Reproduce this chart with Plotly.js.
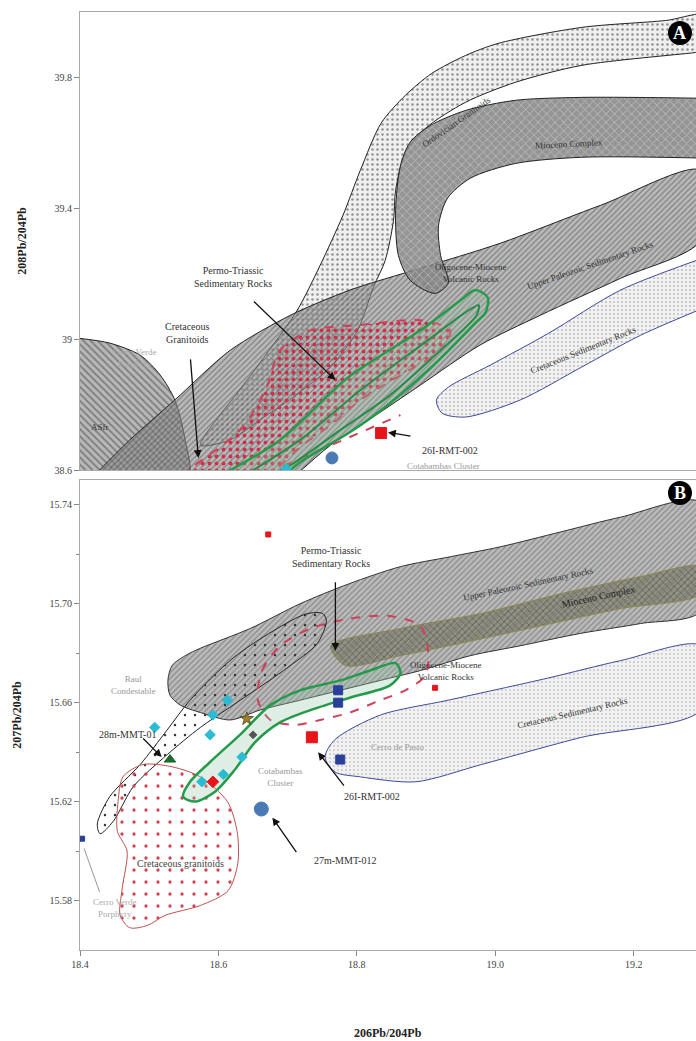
<!DOCTYPE html>
<html><head><meta charset="utf-8">
<script src="https://cdn.plot.ly/plotly-3.0.1.min.js"></script>
<style>html,body{margin:0;padding:0;background:#fff}#chart{width:696px;height:1041px}</style>
</head><body><div id="chart"></div>
<script>
// ---------- Panel A (208Pb/204Pb vs 206Pb/204Pb) field outlines ----------
const asfrA_x = [18.397,18.443,18.487,18.516,18.537,18.552,18.556,18.397];
const asfrA_y = [39.003,38.988,38.951,38.890,38.814,38.692,38.569,38.569];
const upPalA_x = [18.414,18.472,18.537,18.617,18.704,18.790,18.892,19.007,19.152,19.297,19.297,19.181,19.065,18.978,18.892,18.834,18.762,18.704];
const upPalA_y = [38.569,38.692,38.814,38.966,39.073,39.150,39.217,39.293,39.409,39.516,39.302,39.186,39.073,38.982,38.860,38.777,38.676,38.569];
const ordA_x = [18.574,18.602,18.627,18.670,18.714,18.747,18.780,18.805,18.835,18.870,18.908,18.957,19.004,19.125,19.246,19.311,19.311,19.289,19.125,19.029,18.957,18.899,18.870,18.856,18.853,18.841,18.824,18.801,18.762,18.708,18.660,18.617,18.574];
const ordA_y = [38.676,38.768,38.835,38.957,39.089,39.226,39.379,39.516,39.660,39.745,39.812,39.867,39.904,39.953,39.974,39.992,39.882,39.876,39.837,39.785,39.724,39.644,39.568,39.455,39.363,39.241,39.159,39.027,38.915,38.823,38.753,38.692,38.676];
const miocA_x = [19.311,19.125,19.029,18.957,18.906,18.877,18.863,18.856,18.860,18.877,18.913,18.932,18.921,18.918,18.931,18.964,19.029,19.125,19.311];
const miocA_y = [39.736,39.739,39.730,39.699,39.653,39.602,39.531,39.394,39.256,39.180,39.140,39.171,39.256,39.348,39.431,39.492,39.537,39.556,39.553];
const creSedA_x = [19.311,19.181,19.077,18.993,18.932,18.915,18.923,18.957,19.036,19.125,19.210,19.311];
const creSedA_y = [39.256,39.150,39.018,38.921,38.853,38.814,38.774,38.762,38.814,38.915,39.012,39.104];
const redA_x = [18.545,18.631,18.668,18.689,18.733,18.805,18.892,18.935,18.921,18.863,18.805,18.762,18.718,18.675];
const redA_y = [38.585,38.722,38.844,38.966,39.027,39.043,39.058,39.027,38.966,38.890,38.814,38.737,38.670,38.585];
const redLineA_x = [18.646,18.762,18.863];
const redLineA_y = [38.569,38.676,38.768];
const greenA_x = [18.605,18.689,18.788,18.892,18.950,18.971,18.989,18.986,18.971,18.908,18.835,18.788,18.718,18.696];
const greenA_y = [38.585,38.692,38.884,39.027,39.119,39.150,39.128,39.082,39.049,38.915,38.783,38.713,38.624,38.585];
const greenA2_x = [18.639,18.718,18.805,18.899,18.957,18.976,18.973,18.921,18.848,18.776,18.704,18.675];
const greenA2_y = [38.585,38.692,38.844,38.991,39.082,39.104,39.073,38.966,38.829,38.722,38.615,38.585];
// Panel A samples
const redSqA_x = [18.835], redSqA_y = [38.713];
const blueCircA_x = [18.764], blueCircA_y = [38.637];
const cyanA_x = [18.698], cyanA_y = [38.604];

// ---------- Panel B (207Pb/204Pb vs 206Pb/204Pb) field outlines ----------
const upPalB_x = [18.527,18.533,18.552,18.574,18.646,18.718,18.788,18.863,18.935,19.007,19.094,19.181,19.297,19.297,19.210,19.123,19.036,18.964,18.892,18.834,18.776,18.718,18.660,18.617,18.574,18.545,18.530,18.527];
const upPalB_y = [15.669,15.675,15.679,15.682,15.690,15.700,15.708,15.715,15.719,15.723,15.729,15.735,15.741,15.697,15.692,15.688,15.683,15.679,15.673,15.669,15.665,15.661,15.657,15.653,15.656,15.659,15.663,15.669];
const miocB_x = [18.762,18.863,18.978,19.094,19.210,19.297,19.297,19.181,19.065,18.950,18.863,18.783,18.762];
const miocB_y = [15.683,15.690,15.696,15.704,15.711,15.715,15.704,15.698,15.691,15.684,15.679,15.675,15.683];
const loopB_x = [18.425,18.443,18.487,18.526,18.559,18.621,18.679,18.728,18.751,18.756,18.743,18.694,18.621,18.574,18.526,18.477,18.448,18.429,18.425];
const loopB_y = [15.611,15.622,15.635,15.649,15.661,15.678,15.689,15.696,15.696,15.693,15.684,15.673,15.659,15.650,15.639,15.626,15.612,15.607,15.611];
const graniteB_x = [18.462,18.491,18.534,18.574,18.613,18.627,18.628,18.614,18.574,18.523,18.498,18.472,18.458,18.461,18.468,18.454,18.455,18.462];
const graniteB_y = [15.630,15.635,15.634,15.630,15.620,15.608,15.595,15.584,15.578,15.574,15.570,15.569,15.574,15.585,15.600,15.608,15.620,15.630];
const greenB_x = [18.549,18.559,18.588,18.631,18.675,18.718,18.776,18.819,18.856,18.863,18.848,18.790,18.733,18.689,18.653,18.624,18.595,18.566,18.549];
const greenB_y = [15.622,15.628,15.636,15.647,15.659,15.665,15.669,15.673,15.676,15.672,15.667,15.662,15.657,15.652,15.644,15.633,15.624,15.620,15.622];
const pinkB_x = [18.657,18.663,18.689,18.733,18.790,18.848,18.892,18.903,18.899,18.870,18.834,18.790,18.747,18.711,18.675,18.657];
const pinkB_y = [15.661,15.673,15.683,15.690,15.694,15.695,15.691,15.681,15.671,15.665,15.661,15.656,15.653,15.651,15.653,15.661];
const creSedB_x = [18.754,18.768,18.834,18.932,19.077,19.181,19.297,19.297,19.125,18.980,18.885,18.805,18.768,18.754];
const creSedB_y = [15.638,15.645,15.655,15.661,15.670,15.677,15.683,15.657,15.646,15.635,15.628,15.630,15.632,15.638];
// Panel B samples
const redSqB_x = [18.735], redSqB_y = [15.646];
const redSmallB_x = [18.672,18.913], redSmallB_y = [15.728,15.666];
const blueSqB_x = [18.773,18.773,18.776], blueSqB_y = [15.665,15.660,15.637];
const blueSmallB_x = [18.403], blueSmallB_y = [15.605];
const cyanB_x = [18.592,18.613,18.588,18.634,18.576,18.607,18.508];
const cyanB_y = [15.655,15.661,15.647,15.638,15.628,15.631,15.650];
const redDiaB_x = [18.592], redDiaB_y = [15.628];
const starB_x = [18.641], starB_y = [15.6535];
const darkB_x = [18.650], darkB_y = [15.647];
const triB_x = [18.530], triB_y = [15.637];
const blueCircB_x = [18.662], blueCircB_y = [15.617];

// tick labels
const xTicks = [18.4,18.6,18.8,19.0,19.2];
const xTickText = ['18.4','18.6','18.8','19.0','19.2'];
const yTicksA = [38.6,39.0,39.4,39.8];
const yTickTextA = ['38.6','39','39.4','39.8'];
const yTicksB = [15.58,15.62,15.66,15.70,15.74];
const yTickTextB = ['15.58','15.62','15.66','15.70','15.74'];
const yMinorB = [15.60,15.64,15.68,15.72];

const FF = 'Liberation Serif, Times New Roman, serif';

function poly(x, y, ax, o) {
  return Object.assign({type:'scatter', mode:'lines', x:x, y:y, xaxis:ax[0], yaxis:ax[1],
    fill:'toself', hoverinfo:'skip', showlegend:false,
    line:{shape:'spline', smoothing:0.8, color:o.lc||'#222', width:o.lw||1, dash:o.dash||'solid'},
    fillcolor:o.fc||'rgba(0,0,0,0)'}, o.pat ? {fillpattern:o.pat} : {});
}
function pts(x, y, ax, sym, size, color, lc) {
  return {type:'scatter', mode:'markers', x:x, y:y, xaxis:ax[0], yaxis:ax[1], showlegend:false, hoverinfo:'skip',
    marker:{symbol:sym, size:size, color:color, line:{color:lc||color, width:1}}};
}
const A = ['x2','y2'], B = ['x','y'];

const traces = [
  // Panel A
  poly(asfrA_x, asfrA_y, A, {fc:'rgba(160,160,160,0.75)', pat:{shape:'\\', fgcolor:'#444', size:5, solidity:0.35, fillmode:'overlay'}}),
  poly(ordA_x, ordA_y, A, {fc:'rgba(238,238,238,0.9)', pat:{shape:'.', fgcolor:'#333', size:5, solidity:0.2, fillmode:'overlay'}}),
  poly(upPalA_x, upPalA_y, A, {fc:'rgba(140,140,140,0.6)', pat:{shape:'/', fgcolor:'#444', size:4, solidity:0.3, fillmode:'overlay'}}),
  poly(miocA_x, miocA_y, A, {fc:'rgba(130,130,130,0.85)', pat:{shape:'x', fgcolor:'#e8e8e8', size:6, solidity:0.25, fillmode:'overlay'}}),
  poly(creSedA_x, creSedA_y, A, {lc:'#3a4a9a', fc:'rgba(242,242,242,1)', pat:{shape:'.', fgcolor:'#888', size:4, solidity:0.2, fillmode:'overlay'}}),
  poly(redA_x, redA_y, A, {lc:'#d0405a', lw:2, dash:'dash', fc:'rgba(0,0,0,0)', pat:{shape:'.', fgcolor:'#d0304a', bgcolor:'rgba(0,0,0,0)', size:7, solidity:0.25}}),
  {type:'scatter', mode:'lines', x:redLineA_x, y:redLineA_y, xaxis:'x2', yaxis:'y2', showlegend:false, hoverinfo:'skip', line:{color:'#d0405a', width:2, dash:'dash'}},
  poly(greenA_x, greenA_y, A, {lc:'#249a4a', lw:2.5, fc:'rgba(150,200,165,0.25)'}),
  poly(greenA2_x, greenA2_y, A, {lc:'#2a8a48', lw:2, fc:'rgba(0,0,0,0)'}),
  pts(redSqA_x, redSqA_y, A, 'square', 11, '#e8141b'),
  pts(blueCircA_x, blueCircA_y, A, 'circle', 12, '#4a7ab5'),
  pts(cyanA_x, cyanA_y, A, 'diamond', 8, '#2bbcd4'),
  // Panel B
  poly(upPalB_x, upPalB_y, B, {lc:'#333', fc:'rgba(150,150,150,0.65)', pat:{shape:'/', fgcolor:'#555', size:4, solidity:0.3, fillmode:'overlay'}}),
  poly(miocB_x, miocB_y, B, {lc:'#8a8a50', fc:'rgba(115,115,90,0.55)', pat:{shape:'x', fgcolor:'#444', size:5, solidity:0.3, fillmode:'overlay'}}),
  poly(creSedB_x, creSedB_y, B, {lc:'#3a4a9a', fc:'rgba(242,242,242,1)', pat:{shape:'.', fgcolor:'#999', size:4, solidity:0.2, fillmode:'overlay'}}),
  poly(loopB_x, loopB_y, B, {lc:'#222', fc:'rgba(255,255,255,0.3)', pat:{shape:'.', fgcolor:'#333', bgcolor:'rgba(0,0,0,0)', size:10, solidity:0.05}}),
  poly(graniteB_x, graniteB_y, B, {lc:'#c05050', fc:'rgba(255,248,248,0.6)', pat:{shape:'.', fgcolor:'#d04050', bgcolor:'rgba(0,0,0,0)', size:12, solidity:0.06}}),
  poly(pinkB_x, pinkB_y, B, {lc:'#d0405a', lw:2, dash:'dash', fc:'rgba(0,0,0,0)'}),
  poly(greenB_x, greenB_y, B, {lc:'#249a4a', lw:2.5, fc:'rgba(150,200,165,0.3)'}),
  pts(cyanB_x, cyanB_y, B, 'diamond', 8, '#2bbcd4'),
  pts(redDiaB_x, redDiaB_y, B, 'diamond', 9, '#e8141b'),
  pts(starB_x, starB_y, B, 'star', 10, '#a08020', '#553'),
  pts(darkB_x, darkB_y, B, 'diamond', 6, '#555'),
  pts(triB_x, triB_y, B, 'triangle-up', 10, '#1d6b2f'),
  pts(blueSqB_x, blueSqB_y, B, 'square', 9, '#2a3f9a'),
  pts(blueSmallB_x, blueSmallB_y, B, 'square', 5, '#2a3f9a'),
  pts(redSmallB_x, redSmallB_y, B, 'square', 5, '#e8141b'),
  pts(redSqB_x, redSqB_y, B, 'square', 11, '#e8141b'),
  pts(blueCircB_x, blueCircB_y, B, 'circle', 14, '#4a7ab5')
];

function lab(text, x, y, ax, o) {
  o = o || {};
  const a = {text:text, x:x, y:y, xref:ax[0], yref:ax[1], showarrow:false, xanchor:'center', yanchor:'middle',
    font:{family:FF, size:o.size||10, color:o.color||'#333'}, textangle:o.angle||0, align:'center'};
  if (o.arrow) { a.showarrow = true; a.text = ''; a.ax = o.arrow[0]; a.ay = o.arrow[1];
    a.arrowhead = o.nohead ? 0 : 2; a.arrowsize = 1.2; a.arrowwidth = o.aw||1.3; a.arrowcolor = o.ac||'#111'; }
  return a;
}
const annotations = [
  // Panel A labels
  lab('Ordovician Granitoids', 18.944, 39.663, A, {angle:-35, size:9}),
  lab('Mioceno Complex', 19.106, 39.598, A, {size:9, angle:-3}),
  lab('Upper Paleozoic Sedimentary Rocks', 19.138, 39.226, A, {angle:-19, size:9}),
  lab('Oligocene-Miocene<br>Volcanic Rocks', 18.964, 39.202, A, {size:9}),
  lab('Cretaceous Sedimentary Rocks', 19.127, 38.966, A, {angle:-22, size:9}),
  lab('Permo-Triassic<br>Sedimentary Rocks', 18.621, 39.189, A, {size:10}),
  lab('', 18.769, 38.875, A, {arrow:[-83,-80]}),
  lab('Cretaceous<br>Granitoids', 18.556, 39.018, A, {size:10}),
  lab('', 18.571, 38.637, A, {arrow:[-8,-100]}),
  lab('Cerro Verde<br>Porphyry', 18.480, 38.942, A, {size:9, color:'#aaa'}),
  lab('ASfr', 18.429, 38.731, A, {size:9}),
  lab('26I-RMT-002', 18.935, 38.661, A, {size:10}),
  lab('', 18.845, 38.715, A, {arrow:[24,4]}),
  lab('Cotabambas Cluster', 18.925, 38.612, A, {size:9, color:'#999'}),
  // Panel B labels
  lab('Permo-Triassic<br>Sedimentary Rocks', 18.762, 15.719, B, {size:10}),
  lab('', 18.769, 15.681, B, {arrow:[0,-70]}),
  lab('Upper Paleozoic Sedimentary Rocks', 19.048, 15.708, B, {angle:-12, size:9}),
  lab('Mioceno Complex', 19.149, 15.703, B, {angle:-12, size:10, color:'#222'}),
  lab('Oligocene-Miocene<br>Volcanic Rocks', 18.928, 15.673, B, {size:9}),
  lab('Cretaceous Sedimentary Rocks', 19.111, 15.656, B, {angle:-13, size:9}),
  lab('Cerro de Pasto', 18.858, 15.642, B, {size:9, color:'#999'}),
  lab('Raul<br>Condestable', 18.477, 15.667, B, {size:9, color:'#999'}),
  lab('28m-MMT-01', 18.468, 15.647, B, {size:10}),
  lab('', 18.518, 15.638, B, {arrow:[-20,-20]}),
  lab('Cotabambas<br>Cluster', 18.689, 15.630, B, {size:9, color:'#999'}),
  lab('26I-RMT-002', 18.822, 15.622, B, {size:10}),
  lab('', 18.744, 15.640, B, {arrow:[27,35]}),
  lab('27m-MMT-012', 18.783, 15.596, B, {size:10}),
  lab('', 18.678, 15.6135, B, {arrow:[25,36]}),
  lab('Cretaceous granitoids', 18.545, 15.595, B, {size:10, color:'#444'}),
  lab('Cerro Verde<br>Porphyry', 18.451, 15.577, B, {size:9, color:'#aaa'}),
  lab('', 18.406, 15.601, B, {arrow:[16,45], nohead:true, ac:'#999', aw:1}),
  // x-axis title
  {text:'<b>206Pb/204Pb</b>', xref:'paper', yref:'paper', x:0.5, y:0, xanchor:'center', yanchor:'middle', yshift:-83, showarrow:false, font:{family:FF, size:12, color:'#222'}},
  // panel badges
  {text:'<b>A</b>', xref:'paper', yref:'paper', x:0.974, y:0.9776, xanchor:'center', yanchor:'middle', showarrow:false, font:{family:FF, size:18, color:'#fff'}},
  {text:'<b>B</b>', xref:'paper', yref:'paper', x:0.974, y:0.4872, xanchor:'center', yanchor:'middle', showarrow:false, font:{family:FF, size:18, color:'#fff'}}
];
const shapes = [
  {type:'circle', xref:'paper', yref:'paper', xsizemode:'pixel', ysizemode:'pixel', xanchor:0.974, yanchor:0.9776, x0:-12, x1:12, y0:-12, y1:12, fillcolor:'#000', line:{width:0}},
  {type:'circle', xref:'paper', yref:'paper', xsizemode:'pixel', ysizemode:'pixel', xanchor:0.974, yanchor:0.4872, x0:-12, x1:12, y0:-12, y1:12, fillcolor:'#000', line:{width:0}}
];
const tickFont = {family:FF, size:10, color:'#444'};
const axisCommon = {showgrid:false, zeroline:false, showline:true, linecolor:'#aaa', linewidth:1, mirror:true, ticks:'outside', ticklen:5, tickcolor:'#888', tickfont:tickFont};
const layout = {
  width:696, height:1041, margin:{l:80, r:0, t:12, b:91}, paper_bgcolor:'#fff', plot_bgcolor:'#fff',
  font:{family:FF}, showlegend:false,
  xaxis: Object.assign({}, axisCommon, {anchor:'y', domain:[0,1], range:[18.4,19.29], tickvals:xTicks, ticktext:xTickText}),
  yaxis: Object.assign({}, axisCommon, {anchor:'x', domain:[0,0.501], range:[15.56,15.75], tickvals:yTicksB, ticktext:yTickTextB,
    minor:{tickvals:yMinorB, ticklen:3, tickcolor:'#888', ticks:'outside'},
    title:{text:'<b>207Pb/204Pb</b>', font:{family:FF, size:12, color:'#222'}, standoff:25}}),
  xaxis2: Object.assign({}, axisCommon, {anchor:'y2', domain:[0,1], range:[18.4,19.29], matches:'x', showticklabels:false, ticks:''}),
  yaxis2: Object.assign({}, axisCommon, {anchor:'x2', domain:[0.5117,1], range:[38.6,40.0], tickvals:yTicksA, ticktext:yTickTextA,
    title:{text:'<b>208Pb/204Pb</b>', font:{family:FF, size:12, color:'#222'}, standoff:25}}),
  annotations:annotations, shapes:shapes
};
Plotly.newPlot('chart', traces, layout, {displayModeBar:false, staticPlot:true});
</script></body></html>
